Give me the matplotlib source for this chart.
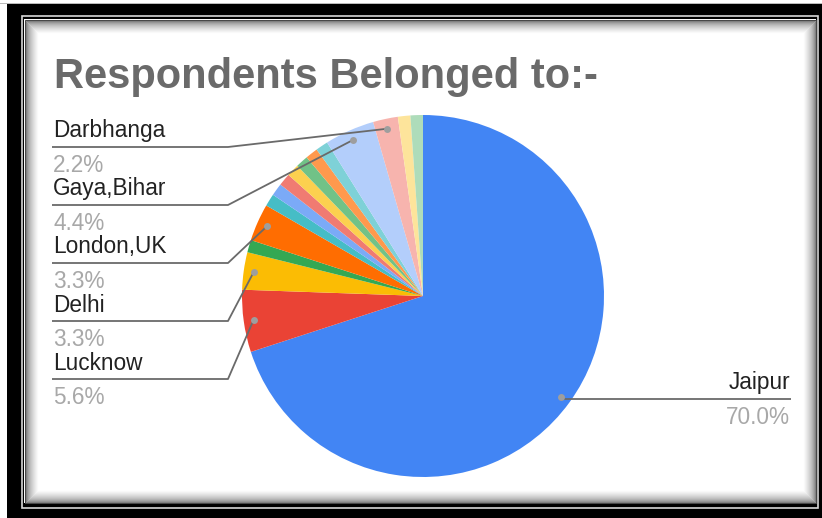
import matplotlib
matplotlib.use('Agg')
import matplotlib.pyplot as plt
from matplotlib.patches import Rectangle
import numpy as np

# Respondents by city (90 respondents in total)
cities = ['Jaipur', 'Lucknow', 'Delhi', 'Other 1', 'London,UK', 'Other 2', 'Other 3',
          'Other 4', 'Other 5', 'Other 6', 'Other 7', 'Other 8', 'Gaya,Bihar',
          'Darbhanga', 'Other 9', 'Other 10']
counts = [63, 5, 3, 1, 3, 1, 1, 1, 1, 1, 1, 1, 4, 2, 1, 1]
colors = ['#4285F4', '#EA4335', '#FBBC04', '#34A853', '#FF6D01', '#46BDC6', '#7BAAF7',
          '#F07B72', '#FCD04F', '#71C287', '#FF994D', '#7ED1D7', '#B3CEFB', '#F7B4AE',
          '#FDE49B', '#AEDCBA']
title = 'Respondents Belonged to:-'

# label layout in pixels: city -> (side, y of the leader line)
label_layout = {
    'Darbhanga': ('left', 147),
    'Gaya,Bihar': ('left', 205),
    'London,UK': ('left', 263),
    'Delhi': ('left', 321),
    'Lucknow': ('left', 379),
    'Jaipur': ('right', 399),
}

W, H = 822, 518
def Y(y):
    return H - y

fig = plt.figure(figsize=(W / 100, H / 100), dpi=100)
fig.patch.set_facecolor('white')
ax = fig.add_axes([0, 0, 1, 1])
ax.set_axis_off()

# frame with bevel/shadow
ax.add_patch(Rectangle((0, Y(3.5)), W, 1, facecolor='#bbbbbb', edgecolor='none'))
ax.add_patch(Rectangle((7, 0), W - 7, Y(4), facecolor='black', edgecolor='none'))
ax.add_patch(Rectangle((21.5, Y(507.5)), 796, 492, facecolor='none',
                       edgecolor='#d8d8d8', linewidth=1.2))
px0, py0, px1, py1 = 24, 19, 816, 503
ax.add_patch(Rectangle((px0, Y(py1)), px1 - px0, py1 - py0, facecolor='white',
                       edgecolor='none'))
steps = 13
for i in range(steps):
    g = 0.28 + 0.72 * (i / steps) ** 0.45
    ax.add_patch(Rectangle((px0 + i + 0.5, Y(py1) + i + 0.5), px1 - px0 - 2 * i - 1,
                           py1 - py0 - 2 * i - 1, facecolor='none',
                           edgecolor=(g, g, g), linewidth=0.75))

# pie
cx, cy, r = 423, 296, 181
wedges, _ = ax.pie(counts, colors=colors, startangle=90, counterclock=False,
                   center=(cx, Y(cy)), radius=r, wedgeprops=dict(linewidth=0))

total = sum(counts)
font = 'Liberation Sans'
for w, city, n in zip(wedges, cities, counts):
    if city not in label_layout:
        continue
    side, ly = label_layout[city]
    mid = np.deg2rad((w.theta1 + w.theta2) / 2)
    dx, dy = cx + 0.945 * r * np.cos(mid), Y(cy) + 0.945 * r * np.sin(mid)
    pct = '{:.1f}%'.format(100 * n / total)
    if side == 'left':
        xs = [52, 228, dx]
        ys = [Y(ly), Y(ly), dy]
        tx, ha = 53, 'left'
    else:
        xs = [dx, 791]
        ys = [Y(ly), Y(ly)]
        tx, ha = 790, 'right'
    ax.plot(xs, ys, color='#6a6a6a', linewidth=1.3, solid_capstyle='butt')
    ax.plot([dx], [dy], 'o', color='#9e9e9e', markersize=5, markeredgewidth=0)
    ax.text(tx, Y(ly) + 9.5, city, ha=ha, va='baseline', fontsize=16.3,
            family=font, color='#222222')
    ax.text(tx, Y(ly) - 24.5, pct, ha=ha, va='baseline', fontsize=16.3,
            family=font, color='#a8a8a8')

ax.text(54, Y(88), title, ha='left', va='baseline', fontsize=30, fontweight='bold',
        family=font, color='#6a6a6a')

ax.set_xlim(0, W)
ax.set_ylim(0, H)
ax.set_aspect('auto')
fig.savefig('out.png', dpi=100)
